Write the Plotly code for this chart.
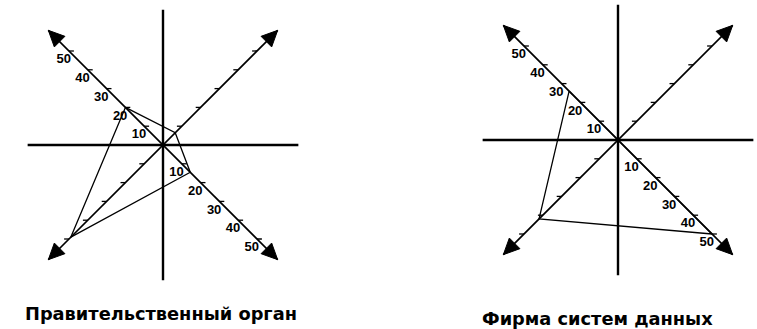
import numpy as np
import plotly.graph_objects as go

# ---- data ----
axis_names = ["NW", "NE", "SE", "SW"]
tick_values = [10, 20, 30, 40, 50]
tick_labels = ["10", "20", "30", "40", "50"]
labelled_axes = ["NW", "SE"]
gov_values = [20, 6.5, 14.5, 49]      # Правительственный орган
firm_values = [26, 0, 50, 42]         # Фирма систем данных
titles = ["Правительственный орган", "Фирма систем данных"]
axis_tip = 61        # end of the diagonal axes (arrow tips)
cross_len = 72       # half-length of horizontal / vertical lines

# ---- geometry / layout params ----
W, H = 757, 329
S = 1.88  # pixels per data unit
centers = [(163, 145), (618, 140)]
split = 378.5
dirs = {"NW": (-1, 1), "NE": (1, 1), "SE": (1, -1), "SW": (-1, -1)}
head_len_px, head_halfw_px = 16.0, 7.5

fig = go.Figure()
datasets = [gov_values, firm_values]

for i, vals in enumerate(datasets):
    xa = "x" if i == 0 else "x2"
    ya = "y" if i == 0 else "y2"
    # cross lines
    fig.add_trace(go.Scatter(x=[-cross_len, cross_len, None, 0, 0],
                             y=[0, 0, None, -cross_len, cross_len],
                             mode="lines", line=dict(color="black", width=2.4),
                             xaxis=xa, yaxis=ya, hoverinfo="skip", showlegend=False))
    # diagonal axes
    xs = [-axis_tip, axis_tip, None, -axis_tip, axis_tip]
    ys = [axis_tip, -axis_tip, None, -axis_tip, axis_tip]
    fig.add_trace(go.Scatter(x=xs, y=ys, mode="lines",
                             line=dict(color="black", width=1.6),
                             xaxis=xa, yaxis=ya, hoverinfo="skip", showlegend=False))
    # arrowheads as filled triangles derived from the axis tip
    ax_, ay_ = [], []
    r2 = np.sqrt(2)
    for n in axis_names:
        dx, dy = dirs[n]
        ux, uy = dx / r2, dy / r2          # unit direction
        qx, qy = -uy, ux                   # perpendicular
        tipx, tipy = dx * axis_tip, dy * axis_tip
        L = head_len_px / S
        hw = head_halfw_px / S
        bx, by = tipx - ux * L, tipy - uy * L
        ax_ += [tipx, bx + qx * hw, bx - qx * hw, tipx, None]
        ay_ += [tipy, by + qy * hw, by - qy * hw, tipy, None]
    fig.add_trace(go.Scatter(x=ax_, y=ay_, mode="lines", fill="toself",
                             fillcolor="black", line=dict(color="black", width=1),
                             xaxis=xa, yaxis=ya, hoverinfo="skip", showlegend=False))
    # ticks
    tx, ty = [], []
    for n in axis_names:
        dx, dy = dirs[n]
        side = -1 if n in ("NE", "SW") else 1
        for v in tick_values:
            tx += [dx * v, dx * v + side * 2.6, None]
            ty += [dy * v, dy * v, None]
    fig.add_trace(go.Scatter(x=tx, y=ty, mode="lines",
                             line=dict(color="black", width=1.3),
                             xaxis=xa, yaxis=ya, hoverinfo="skip", showlegend=False))
    # labels
    lx, ly, lt = [], [], []
    for n in labelled_axes:
        dx, dy = dirs[n]
        for v, t in zip(tick_values, tick_labels):
            lx.append(dx * v - 2.8)
            ly.append(dy * v - 4.8)
            lt.append("<b>" + t + "</b>")
    fig.add_trace(go.Scatter(x=lx, y=ly, mode="text", text=lt,
                             textfont=dict(family="Liberation Sans", size=13, color="black"),
                             xaxis=xa, yaxis=ya, hoverinfo="skip", showlegend=False))
    # polygon
    px = [dirs[n][0] * v for n, v in zip(axis_names, vals)]
    py = [dirs[n][1] * v for n, v in zip(axis_names, vals)]
    fig.add_trace(go.Scatter(x=px + [px[0]], y=py + [py[0]], mode="lines",
                             line=dict(color="black", width=1.3),
                             xaxis=xa, yaxis=ya, hoverinfo="skip", showlegend=False))

def ax_layout(cx, cy, p0, p1):
    return (dict(domain=[p0 / W, p1 / W], range=[(p0 - cx) / S, (p1 - cx) / S],
                 visible=False, showgrid=False, zeroline=False, fixedrange=True),
            dict(domain=[0, 1], range=[-(H - cy) / S, cy / S],
                 visible=False, showgrid=False, zeroline=False, fixedrange=True))

x1, y1 = ax_layout(*centers[0], 0, split)
x2, y2 = ax_layout(*centers[1], split, W)
y2["anchor"] = "x2"
x2["anchor"] = "y2"

title_font = dict(family="DejaVu Sans", size=17.8, color="black")
fig.update_layout(
    width=W, height=H, margin=dict(l=0, r=0, t=0, b=0),
    paper_bgcolor="white", plot_bgcolor="white",
    xaxis=x1, yaxis=y1, xaxis2=x2, yaxis2=y2,
    annotations=[
        dict(text="<b>" + titles[0] + "</b>", x=161 / W, y=1 - 313 / H, xref="paper", yref="paper",
             showarrow=False, font=title_font, xanchor="center", yanchor="middle"),
        dict(text="<b>" + titles[1] + "</b>", x=597.5 / W, y=1 - 318 / H, xref="paper", yref="paper",
             showarrow=False, font=title_font, xanchor="center", yanchor="middle"),
    ],
)

fig.write_html("out.html", config={"displayModeBar": False},
               post_script="document.body.style.margin='0';document.body.style.overflow='hidden';")
